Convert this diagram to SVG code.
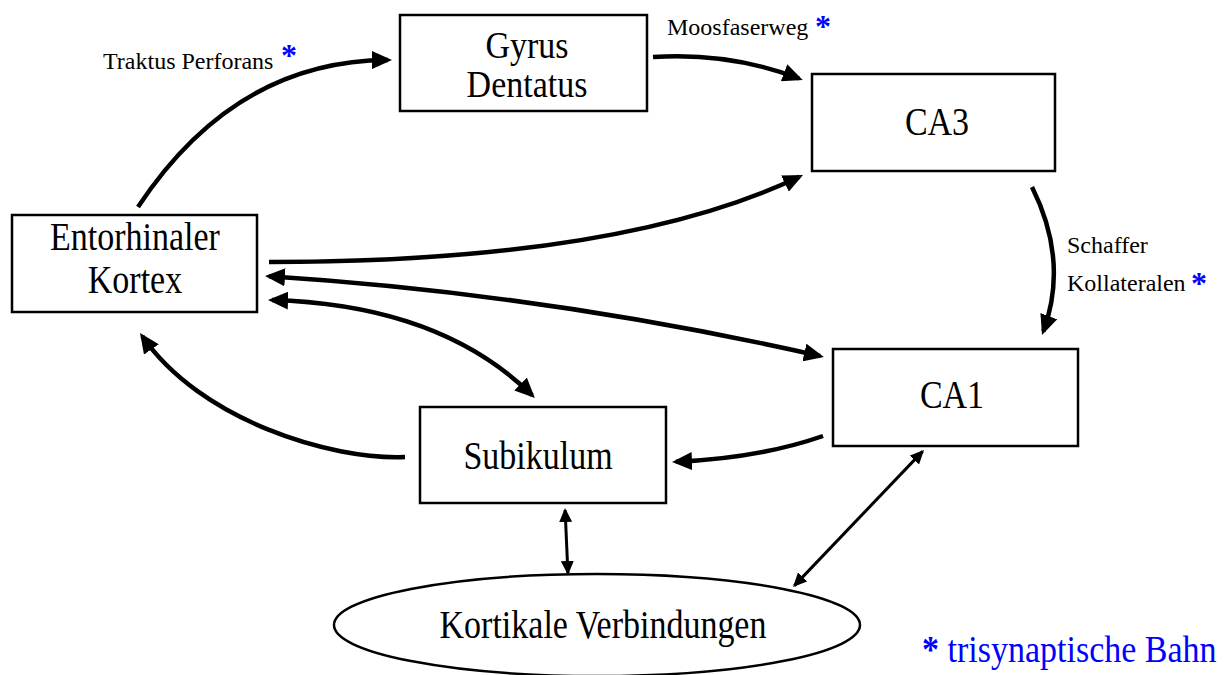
<svg xmlns="http://www.w3.org/2000/svg" width="1228" height="675" viewBox="0 0 1228 675">
<style>
.box{fill:#fff;stroke:#000;stroke-width:2.5}
.node{font-family:"Liberation Serif","Times New Roman",serif;font-size:34px;fill:#000;text-anchor:middle}
.lbl{font-family:"Liberation Serif","Times New Roman",serif;font-size:24px;fill:#000}
.star{font-family:"Liberation Serif","Times New Roman",serif;font-size:32px;font-weight:bold;fill:#0000ff}
.legend{font-family:"Liberation Serif","Times New Roman",serif;font-size:34px;fill:#0000ff}
.c{fill:none;stroke:#000;stroke-width:4.5;marker-end:url(#ah)}
.c2{fill:none;stroke:#000;stroke-width:4.5;marker-start:url(#ah);marker-end:url(#ah)}
.t{fill:none;stroke:#000;stroke-width:3;marker-start:url(#sh);marker-end:url(#sh)}
</style>
<defs>
<marker id="ah" viewBox="0 0 20 18" refX="16" refY="9" markerWidth="20" markerHeight="18" markerUnits="userSpaceOnUse" orient="auto-start-reverse"><path d="M0,0 L20,9 L0,18 z" fill="#000"/></marker>
<marker id="sh" viewBox="0 0 14 13" refX="12" refY="6.5" markerWidth="14" markerHeight="13" markerUnits="userSpaceOnUse" orient="auto-start-reverse"><path d="M0,0 L14,6.5 L0,13 z" fill="#000"/></marker>
</defs>
<rect width="1228" height="675" fill="#fff"/>
<g id="connectors">
<path class="c" d="M138,207 Q235,60.5 388,60"/>
<path class="c" d="M653,57 Q730,52 799,78.5"/>
<path class="c" d="M1032,187 Q1069,261 1043.4,331.2"/>
<path class="c" d="M269,262 Q620,262 799.4,176.7"/>
<path class="c2" d="M269,276.3 Q546,294 820,356"/>
<path class="c2" d="M272,300.1 Q440,305 532,395.2"/>
<path class="c" d="M405,457 C330,460 200,420 142.3,336.3"/>
<path class="c" d="M823,436 Q760,458 676,461.8"/>
<path class="t" d="M565.1,510 L567.9,573"/>
<path class="t" d="M922.6,451.4 L794.4,585.6"/>
</g>
<g id="gyrus-dentatus">
<rect class="box" x="400" y="15" width="247" height="96"/>
<text class="node" font-size="33" transform="translate(527,58) scale(1,1.1)">Gyrus</text>
<text class="node" font-size="33" transform="translate(527,97) scale(1,1.1)">Dentatus</text>
</g>
<g id="ca3">
<rect class="box" x="812" y="74" width="243" height="97"/>
<text class="node" transform="translate(937,135) scale(1,1.15)">CA3</text>
</g>
<g id="entorhinaler-kortex">
<rect class="box" x="12" y="215" width="245" height="97"/>
<text class="node" transform="translate(135,250) scale(1,1.15)">Entorhinaler</text>
<text class="node" transform="translate(135,293) scale(1,1.15)">Kortex</text>
</g>
<g id="ca1">
<rect class="box" x="833" y="349" width="245" height="97"/>
<text class="node" transform="translate(952,408) scale(1,1.15)">CA1</text>
</g>
<g id="subikulum">
<rect class="box" x="420" y="407" width="246" height="96"/>
<text class="node" transform="translate(538,469) scale(1,1.15)">Subikulum</text>
</g>
<g id="kortikale-verbindungen">
<ellipse class="box" cx="597" cy="625" rx="263" ry="51"/>
<text class="node" transform="translate(603,638) scale(1,1.15)">Kortikale Verbindungen</text>
</g>
<g id="labels">
<text class="lbl" x="103" y="69">Traktus Perforans</text>
<text class="star" x="281" y="66">*</text>
<text class="lbl" x="667" y="35">Moosfaserweg</text>
<text class="star" x="815" y="37">*</text>
<text class="lbl" x="1067" y="253">Schaffer</text>
<text class="lbl" x="1067" y="291">Kollateralen</text>
<text class="star" x="1191" y="294">*</text>
<text class="legend" transform="translate(922,662) scale(1,1.1)"><tspan font-weight="bold">*</tspan> trisynaptische Bahn</text>
</g>
</svg>
